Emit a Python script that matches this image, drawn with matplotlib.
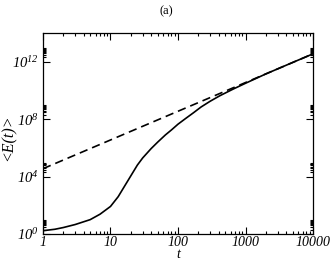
import matplotlib
matplotlib.use("Agg")
import matplotlib.pyplot as plt
import numpy as np
from matplotlib.ticker import FixedLocator, NullFormatter, FixedFormatter

# Data
t_solid = [1, 1.5, 2, 3, 5, 7, 10, 13, 16, 20, 25, 30, 40, 50, 65, 80, 100,
           130, 170, 220, 300, 420, 660, 1000, 2000, 5000, 10000]
logE_solid = [0.23, 0.33, 0.45, 0.66, 1.0, 1.38, 1.92, 2.6, 3.3, 4.05, 4.8,
              5.3, 5.95, 6.4, 6.9, 7.25, 7.65, 8.05, 8.45, 8.85, 9.25, 9.64,
              10.1, 10.5, 11.15, 11.95, 12.55]
t_dash = [1, 10000]
logE_dash = [4.55, 12.55]

x_ticks = [1, 10, 100, 1000, 10000]
x_labels = ["1", "10", "100", "1000", "10000"]
y_ticks = [1e0, 1e4, 1e8, 1e12]
y_labels = [r"$10^{0}$", r"$10^{4}$", r"$10^{8}$", r"$10^{12}$"]

plt.rcParams['font.family'] = ['Liberation Serif', 'DejaVu Serif']
plt.rcParams['mathtext.fontset'] = 'custom'
plt.rcParams['mathtext.rm'] = 'Liberation Serif:italic'
plt.rcParams['mathtext.it'] = 'Liberation Serif:italic'

fig = plt.figure(figsize=(3.32, 2.60), dpi=100)
ax = fig.add_axes([0.1295, 0.10, 0.8133, 0.773])

ax.plot(t_solid, 10 ** np.array(logE_solid), color='black', lw=1.2)
ax.plot(t_dash, 10 ** np.array(logE_dash), color='black', lw=1.2,
        linestyle=(0, (5, 3)))

ax.set_xscale('log')
ax.set_yscale('log')
ax.set_xlim(1, 10000)
ax.set_ylim(1, 1e14)

ax.xaxis.set_major_locator(FixedLocator(x_ticks))
ax.xaxis.set_major_formatter(FixedFormatter(x_labels))
xminor = [k * 10 ** n for n in range(4) for k in range(2, 10)]
ax.xaxis.set_minor_locator(FixedLocator(xminor))
ax.xaxis.set_minor_formatter(NullFormatter())

ax.yaxis.set_major_locator(FixedLocator(y_ticks))
ax.yaxis.set_major_formatter(FixedFormatter(y_labels))
yminor = [k * 10.0 ** n for n in (0, 4, 8, 12) for k in range(2, 10)]
ax.yaxis.set_minor_locator(FixedLocator(yminor))
ax.yaxis.set_minor_formatter(NullFormatter())

ax.tick_params(which='both', direction='in', top=True, right=True,
               width=0.8, labelsize=10.5)
ax.tick_params(which='major', length=5, pad=3)
ax.tick_params(axis='x', which='major', pad=1.5, labelsize=10)
ax.tick_params(which='minor', length=2.5)
for lab in ax.get_xticklabels():
    lab.set_style('italic')

for s in ax.spines.values():
    s.set_linewidth(0.9)

ax.set_xlabel("t", style='italic', fontsize=10)
ax.xaxis.set_label_coords(0.5, -0.07)
ax.set_ylabel("<E(t)>", style='italic', fontsize=11.5)
ax.yaxis.set_label_coords(-0.098, 0.48)
fig.text(0.5, 0.955, "(a)", ha='center', va='center', fontsize=9)

fig.savefig("out.png", dpi=100)
